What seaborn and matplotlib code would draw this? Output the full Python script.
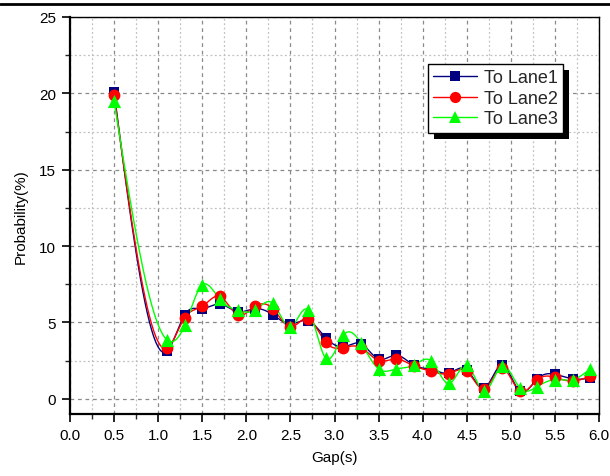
import numpy as np
import pandas as pd
import matplotlib
matplotlib.use("Agg")
import matplotlib.pyplot as plt
import seaborn as sns
from matplotlib.lines import Line2D
from matplotlib.patches import Rectangle
from matplotlib.ticker import MultipleLocator, FormatStrFormatter

gap = [0.5, 1.1, 1.3, 1.5, 1.7, 1.9, 2.1, 2.3, 2.5, 2.7, 2.9, 3.1, 3.3, 3.5,
       3.7, 3.9, 4.1, 4.3, 4.5, 4.7, 4.9, 5.1, 5.3, 5.5, 5.7, 5.9]
lane1 = [20.1, 3.1, 5.5, 5.9, 6.2, 5.7, 5.9, 5.5, 4.9, 5.1, 4.0, 3.4, 3.6, 2.6,
         2.85, 2.2, 1.9, 1.7, 1.9, 0.7, 2.2, 0.5, 1.3, 1.6, 1.3, 1.35]
lane2 = [19.9, 3.3, 5.3, 6.05, 6.7, 5.5, 6.05, 5.9, 4.7, 5.25, 3.7, 3.35, 3.35, 2.5,
         2.6, 2.15, 1.8, 1.65, 1.8, 0.65, 2.0, 0.5, 1.25, 1.4, 1.15, 1.5]
lane3 = [19.5, 3.85, 4.8, 7.45, 6.5, 5.8, 5.8, 6.25, 4.7, 5.8, 2.65, 4.15, 3.65, 1.95,
         1.95, 2.2, 2.45, 1.0, 2.2, 0.5, 2.15, 0.72, 0.8, 1.25, 1.25, 1.95]
labels = ["To Lane1", "To Lane2", "To Lane3"]


def natural_spline(x, y, per=24):
    x = np.asarray(x, float)
    y = np.asarray(y, float)
    n = len(x)
    h = np.diff(x)
    A = np.zeros((n, n))
    b = np.zeros(n)
    A[0, 0] = 1
    A[-1, -1] = 1
    for i in range(1, n - 1):
        A[i, i - 1] = h[i - 1]
        A[i, i] = 2 * (h[i - 1] + h[i])
        A[i, i + 1] = h[i]
        b[i] = 6 * ((y[i + 1] - y[i]) / h[i] - (y[i] - y[i - 1]) / h[i - 1])
    M = np.linalg.solve(A, b)
    xs, ys = [], []
    for i in range(n - 1):
        t = np.linspace(x[i], x[i + 1], per, endpoint=(i == n - 2))
        a = x[i + 1] - t
        c = t - x[i]
        s = (M[i] * a ** 3 + M[i + 1] * c ** 3) / (6 * h[i]) \
            + (y[i] / h[i] - M[i] * h[i] / 6) * a \
            + (y[i + 1] / h[i] - M[i + 1] * h[i] / 6) * c
        xs.append(t)
        ys.append(s)
    return np.concatenate(xs), np.concatenate(ys)


sns.set_theme(style="white")
plt.rcParams['font.family'] = ['Liberation Sans', 'DejaVu Sans']

fig = plt.figure(figsize=(6.1, 4.77), dpi=100)
ax = fig.add_axes([70 / 610, 1 - 415 / 477, 529 / 610, 397 / 477])
ax.set_facecolor("white")

colors = ["#000080", "#ff0000", "#00ff00"]
markers = ["s", "o", "^"]
msizes = [7, 8.5, 9.5]
series = [lane1, lane2, lane3]

for vals, col, mk, ms, lab in zip(series, colors, markers, msizes, labels):
    sx, sy = natural_spline(gap, vals)
    curve = pd.DataFrame({"x": sx, "y": sy})
    sns.lineplot(data=curve, x="x", y="y", ax=ax, color=col, lw=1.0,
                 sort=False, estimator=None, zorder=3)
    pts = pd.DataFrame({"Gap": gap, "P": vals})
    sns.scatterplot(data=pts, x="Gap", y="P", ax=ax, color=col, marker=mk,
                    s=ms ** 2, edgecolor=col, linewidth=0, zorder=4)

ax.set_xlim(0, 6)
ax.set_ylim(-1, 25)
ax.xaxis.set_major_locator(MultipleLocator(0.5))
ax.xaxis.set_minor_locator(MultipleLocator(0.25))
ax.yaxis.set_major_locator(MultipleLocator(5))
ax.yaxis.set_minor_locator(MultipleLocator(2.5))
ax.xaxis.set_major_formatter(FormatStrFormatter("%.1f"))
ax.yaxis.set_major_formatter(FormatStrFormatter("%d"))

ax.grid(which="major", color="#8a8a8a", linestyle=(0, (3, 3)), lw=0.9, zorder=0)
ax.grid(which="minor", color="#c0c0c0", linestyle=(0, (1.5, 2)), lw=0.9, zorder=0)
ax.set_axisbelow(True)

ax.tick_params(which="major", direction="out", length=6, width=1.2,
               labelsize=11, colors="black", left=True, bottom=True, pad=4)
ax.tick_params(which="minor", direction="out", length=3.5, width=1.0,
               left=True, bottom=True)
for side in ["left", "bottom"]:
    ax.spines[side].set_linewidth(1.6)
    ax.spines[side].set_color("black")
for side in ["top", "right"]:
    ax.spines[side].set_linewidth(1.0)
    ax.spines[side].set_color("black")
    ax.spines[side].set_visible(True)

ax.set_xlabel("Gap(s)", fontsize=11, color="black", labelpad=6)
ax.set_ylabel("Probability(%)", fontsize=11, color="black", labelpad=8)

handles = [Line2D([0], [0], color=c, lw=1.0, marker=m, markersize=s * 0.95,
                  markeredgewidth=0)
           for c, m, s in zip(colors, markers, msizes)]
leg = ax.legend(handles, labels, loc="upper right",
                bbox_to_anchor=(0.932, 0.882), borderaxespad=0,
                fontsize=13, frameon=True, fancybox=False, handlelength=2.4,
                labelspacing=0.2, handletextpad=0.4, borderpad=0.3,
                framealpha=1.0, facecolor="white")
leg.get_frame().set_edgecolor("black")
leg.get_frame().set_linewidth(1.0)
leg.set_zorder(6)

fig.canvas.draw()
bb = leg.get_window_extent().transformed(ax.transAxes.inverted())
dx = 6 / 529
dy = 6 / 397
ax.add_patch(Rectangle((bb.x0 + dx, bb.y0 - dy), bb.width, bb.height,
                       transform=ax.transAxes, facecolor="black",
                       edgecolor="none", zorder=5.5, clip_on=False))

fig.add_artist(Line2D([0, 1], [1 - 5 / 477, 1 - 5 / 477], color="black",
                      lw=2, transform=fig.transFigure))

fig.savefig("out.png", dpi=100)
